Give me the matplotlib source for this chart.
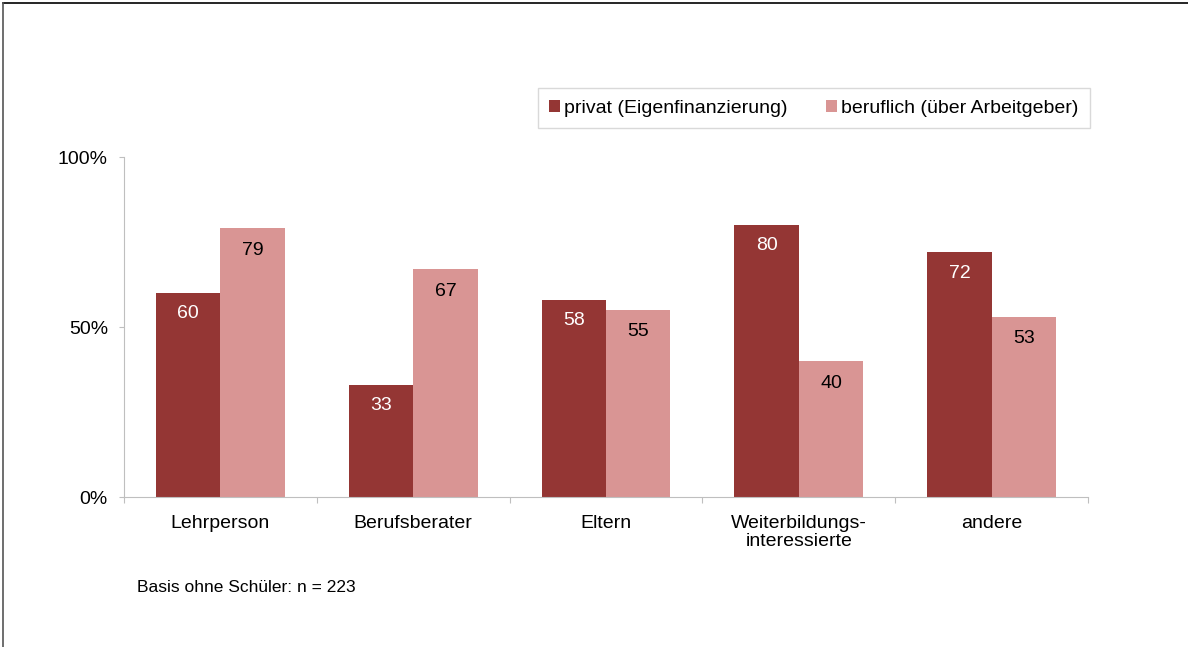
import matplotlib.pyplot as plt
import numpy as np
from matplotlib.lines import Line2D

plt.rcParams['font.family'] = ['Liberation Sans', 'DejaVu Sans']

categories = ['Lehrperson', 'Berufsberater', 'Eltern', 'Weiterbildungs-\ninteressierte', 'andere']
privat = [60, 33, 58, 80, 72]
beruflich = [79, 67, 55, 40, 53]
series_names = ['privat (Eigenfinanzierung)', 'beruflich (über Arbeitgeber)']
yticks = [0, 50, 100]
yticklabels = ['0%', '50%', '100%']

dark = '#943634'
light = '#D99594'
grey = '#BFBFBF'

fig = plt.figure(figsize=(11.88, 6.47), dpi=100)
ax = fig.add_axes([124 / 1188, 1 - 497 / 647, (1088 - 124) / 1188, (497 - 157) / 647])

x = np.arange(len(categories))
w = 0.334
b1 = ax.bar(x - w / 2, privat, w, color=dark, label=series_names[0])
b2 = ax.bar(x + w / 2, beruflich, w, color=light, label=series_names[1])

for rect, v in zip(b1, privat):
    ax.annotate(str(v), (rect.get_x() + rect.get_width() / 2, v), xytext=(0, -21),
                textcoords='offset pixels', ha='center', va='center', color='white', fontsize=14)
for rect, v in zip(b2, beruflich):
    ax.annotate(str(v), (rect.get_x() + rect.get_width() / 2, v), xytext=(0, -22),
                textcoords='offset pixels', ha='center', va='center', color='black', fontsize=14)

ax.set_xlim(-0.5, len(categories) - 0.5)
ax.set_ylim(0, 100)
ax.set_yticks(yticks)
ax.set_yticklabels(yticklabels, fontsize=14)
ax.tick_params(axis='y', length=3.6, color=grey, pad=8)

# category boundary ticks on x
ax.set_xticks(np.arange(len(categories) + 1) - 0.5, minor=False)
ax.set_xticklabels([''] * (len(categories) + 1))
ax.tick_params(axis='x', length=4, color=grey, direction='out')
ax.set_xticks(x, minor=True)
ax.set_xticklabels(categories, minor=True, fontsize=14, linespacing=1.1)
ax.tick_params(axis='x', which='minor', length=0, pad=13)

for s in ['top', 'right']:
    ax.spines[s].set_visible(False)
for s in ['left', 'bottom']:
    ax.spines[s].set_color(grey)

leg = ax.legend(loc='upper right', bbox_to_anchor=(1090 / 1188, 1 - 88 / 647),
                bbox_transform=fig.transFigure, ncol=2, frameon=True, fancybox=False,
                fontsize=14, handlelength=0.55, handleheight=0.55, handletextpad=0.2,
                columnspacing=2.0, borderpad=0.6, borderaxespad=0)
leg.get_frame().set_edgecolor('#D0D0D0')
leg.get_frame().set_linewidth(1)

fig.text(137 / 1188, 1 - 587 / 647, 'Basis ohne Schüler: n = 223', fontsize=12.5, va='center')

fig.add_artist(Line2D([3 / 1188, 1], [1 - 3 / 647, 1 - 3 / 647], color='black', lw=1.2))
fig.add_artist(Line2D([3 / 1188, 3 / 1188], [0, 1 - 3 / 647], color='#555555', lw=1.2))

fig.savefig('out.png', dpi=100)
